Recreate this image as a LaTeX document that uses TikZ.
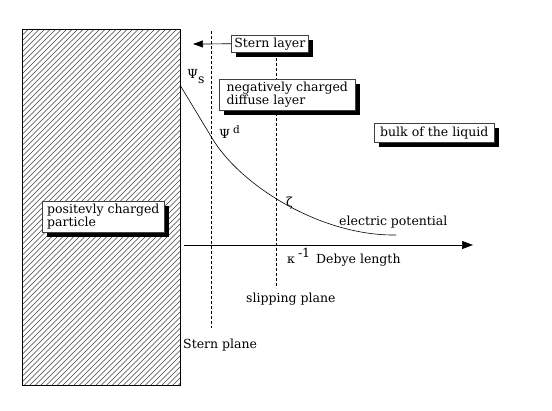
\documentclass[tikz,border=0pt]{standalone}
\usepackage{fontspec}
\setmainfont{DejaVu Serif}
\usetikzlibrary{arrows.meta,shadows}
\begin{document}
\begin{tikzpicture}[x=1pt,y=-1pt,
  lbox/.style={draw=black!75, fill=white, line width=0.6pt, anchor=north west, align=left,
    inner xsep=2pt, inner ysep=1.5pt, font=\fontsize{12.5}{11.5}\selectfont,
    drop shadow={shadow xshift=4.5pt, shadow yshift=-5pt, opacity=1, fill=black}},
  lbl/.style={anchor=base west, inner sep=0pt, font=\fontsize{12.5}{14}\selectfont},
  dashln/.style={line width=0.6pt, dash pattern=on 2.5pt off 2.5pt},
  hatch/.style={line width=0.4pt, black!75},
  tip/.style={-{Triangle[length=10pt,width=7pt]}}]
\useasboundingbox[fill=white] (0,0) rectangle (552,410);

% particle
\coordinate (pnw) at (22,29);
\coordinate (pse) at (180,385);
\begin{scope}
  \clip (pnw) rectangle (pse);
  \foreach \i in {-360,-354.5,...,186}
    \draw[hatch] (\i,390) -- ++(370,-370);
\end{scope}
\draw[line width=0.8pt] (pnw) rectangle (pse);

% dashed planes
\coordinate (sp1) at (211,31);
\coordinate (sp2) at (211,328);
\coordinate (sl1) at (276,53);
\coordinate (sl2) at (276,288);
\draw[dashln] (sp1) -- (sp2);
\draw[dashln] (sl1) -- (sl2);

% axis
\coordinate (ax1) at (184,245);
\coordinate (ax2) at (473,245);
\draw[line width=0.7pt, -{Triangle[length=11pt,width=8pt]}] (ax1) -- (ax2);

% potential curve
\coordinate (c0) at (180,85);
\coordinate (c1) at (212,138);
\coordinate (c2) at (396,235);
\draw[line width=0.6pt] (c0) -- (c1) .. controls (240,185) and (320,236) .. (c2);

% boxes
\node[lbox, minimum width=77pt, minimum height=17pt] (stern) at (231,35) {Stern layer};
\coordinate (arrtip) at (193,44);
\draw[line width=0.7pt, tip] (stern.west) -- (arrtip);
\node[lbox, minimum width=136pt, minimum height=31pt] (diffuse) at (219,79) {negatively charged\\diffuse layer};
\node[lbox, minimum width=120pt, minimum height=19pt] (bulk) at (374,123) {bulk of the liquid};
\node[lbox, minimum width=122pt, minimum height=31pt] (part) at (42,201) {positevly charged\\particle};

% labels
\node[lbl] (psis) at (187,78) {Ψ\raisebox{-5pt}{s}};
\node[lbl] (psid) at (219,138) {Ψ\hspace{3pt}\raisebox{5pt}{\fontsize{10.5}{12}\selectfont d}};
\node[lbl] (zeta) at (286,206) {ζ};
\node[lbl] (ep) at (339,225) {electric potential};
\node[lbl] (deb) at (287,263) {κ\hspace{3pt}\raisebox{6pt}{-1}\hspace{6pt}Debye length};
\node[lbl] (slip) at (246,302) {slipping plane};
\node[lbl] (spl) at (183,348) {Stern plane};
\end{tikzpicture}
\end{document}
